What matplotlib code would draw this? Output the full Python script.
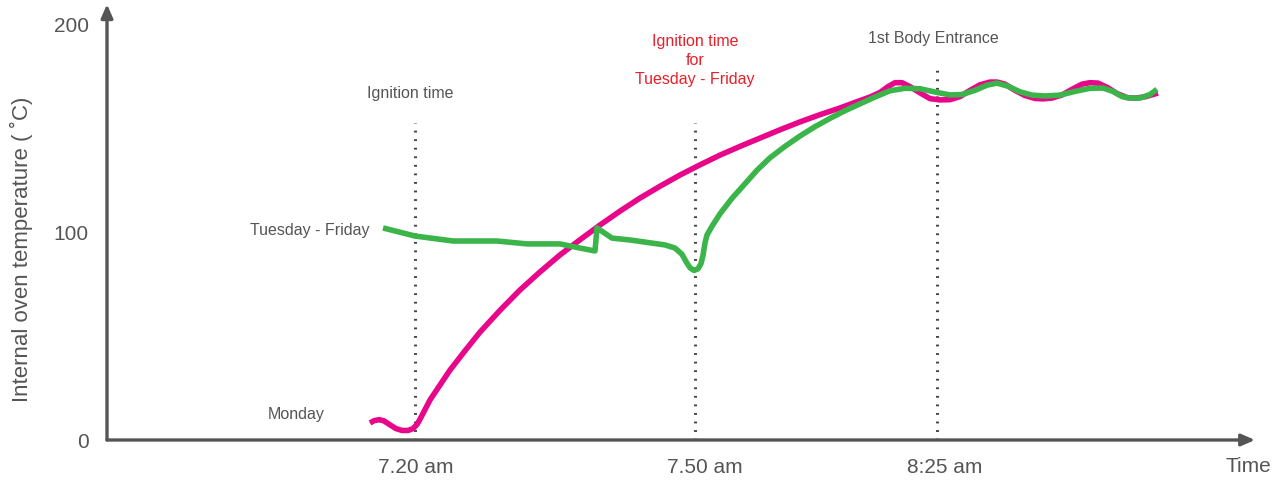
import matplotlib
matplotlib.use("Agg")
from matplotlib import pyplot as plt

# x positions are in "chart units" (the time axis is not linear in minutes)
monday_x = [370, 374, 379, 384, 390, 396, 402, 408, 413, 417, 420, 430, 440, 450, 465, 480, 500,
            520, 540, 560, 580, 600, 620, 640, 660, 680, 700, 720, 740, 760, 780, 800, 820, 840,
            855, 870, 880, 888, 895, 902, 910, 920, 930, 940, 950, 960, 970, 980, 990, 997, 1005,
            1015, 1025, 1035, 1043, 1052, 1062, 1072, 1082, 1090, 1098, 1107, 1117, 1127, 1135,
            1145, 1158]
monday_y = [8.2, 9.3, 9.8, 9.2, 7.3, 5.5, 4.6, 4.6, 5.5, 7.5, 10.0, 19.3, 26.5, 33.7, 43.0, 52.0, 62.5,
            72.3, 81.0, 89.2, 96.5, 103.6, 110.3, 116.6, 122.3, 127.7, 132.6, 137.3, 141.5, 145.5, 149.5, 153.3, 156.8, 160.0,
            162.7, 165.3, 167.5, 170.3, 172.2, 172.2, 170.3, 167.3, 164.5, 163.9, 164.0, 165.5, 168.5, 171.2, 172.5, 172.5, 171.5,
            168.5, 166.0, 164.6, 164.4, 164.8, 166.3, 169.0, 171.5, 172.2, 172.0, 170.0, 167.0, 165.0, 164.7,
            165.4, 167.2]

tuefri_x = [383, 415, 453, 497, 527, 560, 580, 595, 597, 612, 630, 665, 675, 682, 686, 690, 694, 698,
            701, 703, 705, 707, 712, 720, 732, 745, 757, 770, 785, 800, 815, 830, 845, 860, 875,
            890, 905, 920, 937, 950, 962, 975, 987, 997, 1008, 1020, 1032, 1045, 1060, 1075, 1090,
            1103, 1113, 1122, 1130, 1140, 1150, 1157]
tuefri_y = [102.2, 98.3, 95.9, 95.9, 94.5, 94.5, 92.5, 91.1, 102.2, 97.3, 96.4, 94.0, 92.5, 89.5, 86.0, 83.0, 81.7, 82.5,
            85.0, 89.0, 95.0, 98.8, 103.0, 109.0, 116.5, 123.5, 130.0, 136.0, 141.5, 146.5, 151.0, 155.0, 158.7, 162.0, 165.3,
            168.3, 169.5, 169.3, 167.5, 166.3, 166.5, 168.5, 171.0, 172.0, 170.5, 167.8, 166.2, 165.8, 166.2, 168.0, 169.5,
            169.6, 168.0, 165.5, 164.8, 164.8, 166.5, 169.0]

marker_x = [415, 695, 937]
marker_top = [153, 153, 179]

tick_pos = [416, 705, 945]
tick_labels = ["7.20 am", "7.50 am", "8:25 am"]
ytick_vals = [0, 100, 200]

plt.rcParams['font.family'] = ['Liberation Sans', 'DejaVu Sans']
GRAY = "#555555"
MAGENTA = "#e8068a"
GREEN = "#3bb54a"

W, H = 1281, 480
fig = plt.figure(figsize=(W / 100, H / 100), dpi=100)
ax = fig.add_axes([107 / W, 40 / H, (1255 - 107) / W, (440 - 4.25) / H])
ax.set_xlim(107, 1255)
ax.set_ylim(0, 210)

for x, top in zip(marker_x, marker_top):
    ax.plot([x, x], [0, top], color="#444444", lw=2.2, ls=(0, (0.6, 2.2)), zorder=1)

ax.plot(monday_x, monday_y, color=MAGENTA, lw=4, solid_capstyle="butt", solid_joinstyle="round", zorder=2)
ax.plot(tuefri_x, tuefri_y, color=GREEN, lw=4, solid_capstyle="butt", solid_joinstyle="round", zorder=3)

for s in ax.spines.values():
    s.set_visible(False)

# arrows for axes
ax.annotate("", xy=(1, 0), xytext=(0, 0), xycoords="axes fraction",
            arrowprops=dict(arrowstyle="-|>,head_length=0.8,head_width=0.35", color=GRAY, lw=2.4,
                            shrinkA=0, shrinkB=0))
ax.annotate("", xy=(0, 1), xytext=(0, 0), xycoords="axes fraction",
            arrowprops=dict(arrowstyle="-|>,head_length=0.8,head_width=0.35", color=GRAY, lw=2.4,
                            shrinkA=0, shrinkB=0))

ax.set_xticks(tick_pos)
ax.set_xticklabels(tick_labels)
ax.set_yticks(ytick_vals)
ax.tick_params(axis="both", length=0, colors=GRAY, labelsize=15)
ax.tick_params(axis="x", pad=13)
ax.tick_params(axis="y", pad=13)

ax.set_ylabel("Internal oven temperature ( ˚C)", fontsize=16, color=GRAY)
ax.yaxis.set_label_coords(-0.0645, 0.438)

ax.text(1248, -13, "Time", fontsize=15, color=GRAY, ha="center", va="center", clip_on=False)
ax.text(410, 167, "Ignition time", fontsize=11.5, color=GRAY, ha="center", va="center")
ax.text(695, 183, "Ignition time\nfor\nTuesday - Friday", fontsize=11.5, color="#e8202a",
        ha="center", va="center", linespacing=1.35)
ax.text(933, 193.5, "1st Body Entrance", fontsize=11.5, color=GRAY, ha="center", va="center")
ax.text(369, 101, "Tuesday - Friday", fontsize=11.5, color=GRAY, ha="right", va="center")
ax.text(325, 12.5, "Monday", fontsize=11.5, color=GRAY, ha="right", va="center")

fig.savefig("out.png", dpi=100)
